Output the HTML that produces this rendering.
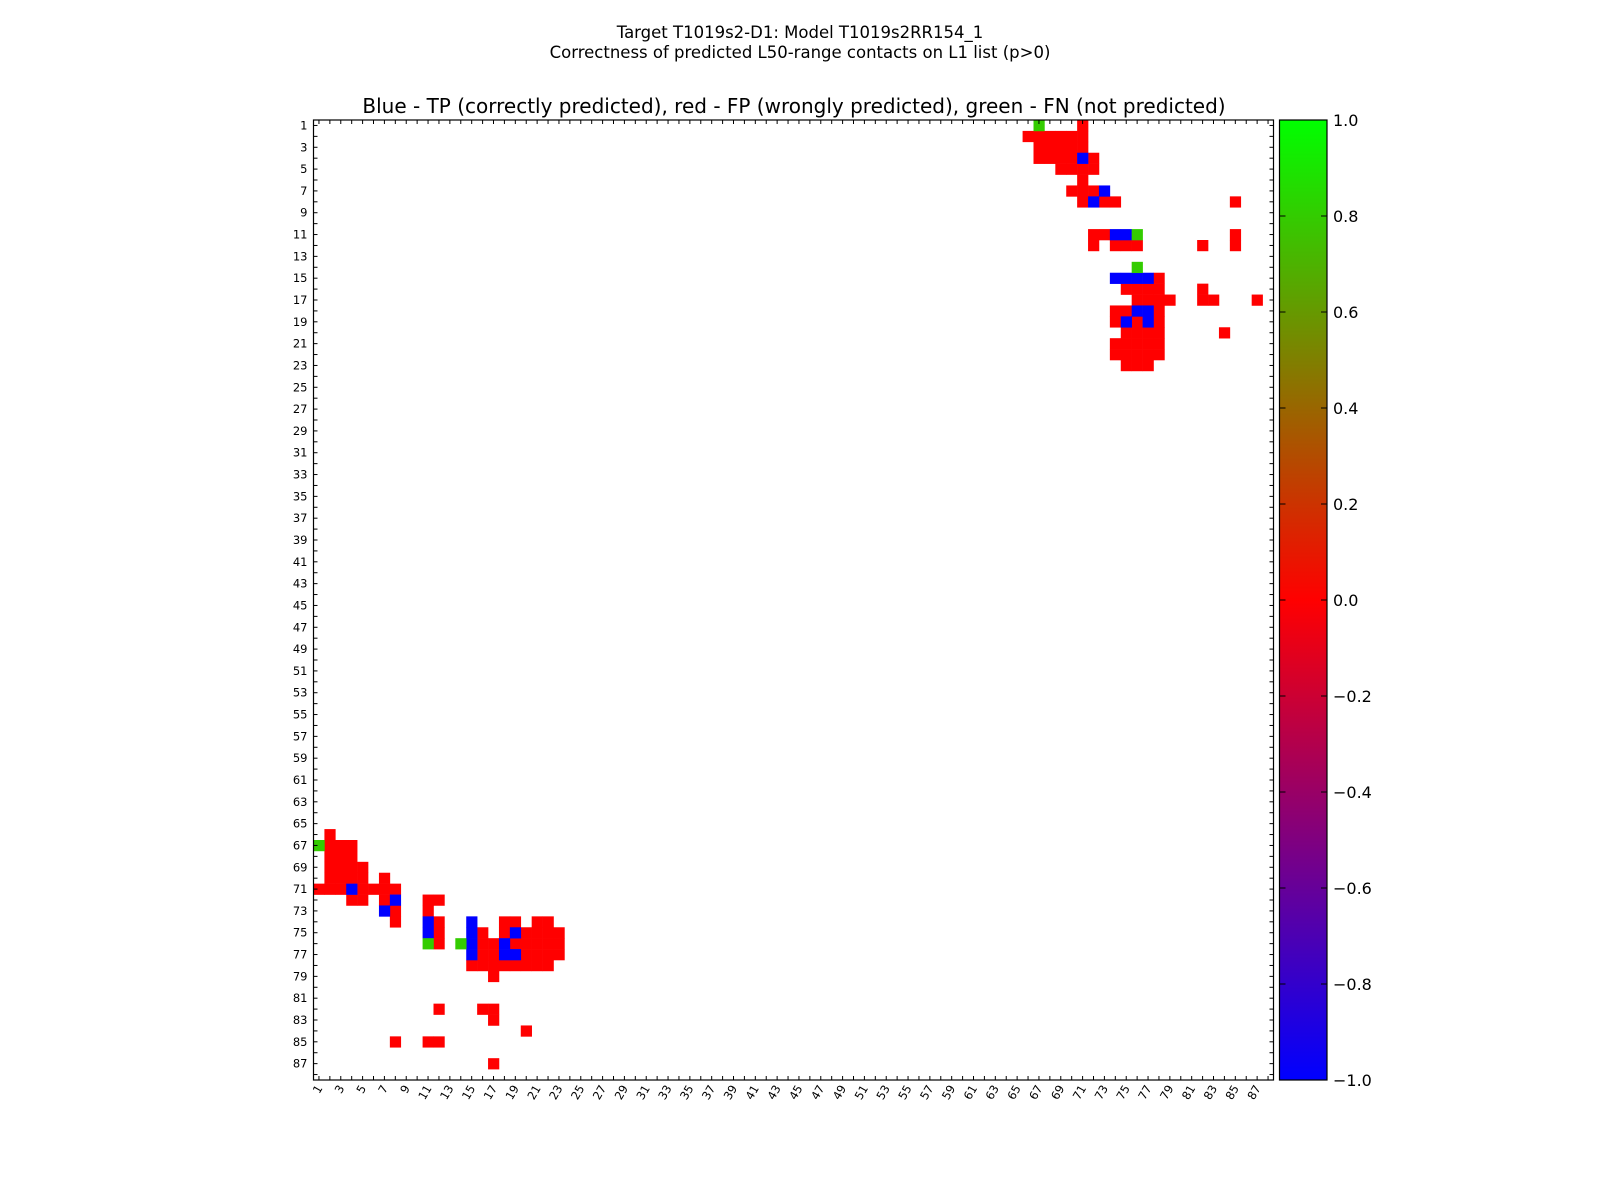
<!DOCTYPE html>
<html><head><meta charset="utf-8"><style>
html,body{margin:0;padding:0;background:#fff;}
svg{display:block;font-family:"DejaVu Sans","Liberation Sans",sans-serif;}
</style></head><body>
<svg id="chart" width="1600" height="1200" viewBox="0 0 1600 1200">
<defs>
<linearGradient id="brg" x1="0" y1="1" x2="0" y2="0">
<stop offset="0" stop-color="#0000ff"/><stop offset="0.5" stop-color="#ff0000"/><stop offset="1" stop-color="#00ff00"/>
</linearGradient>
</defs>
<text x="800" y="38" text-anchor="middle" font-size="16.5">Target T1019s2-D1: Model T1019s2RR154_1</text>
<text x="800" y="58" text-anchor="middle" font-size="16.5">Correctness of predicted L50-range contacts on L1 list (p&gt;0)</text>
<text x="794" y="113" text-anchor="middle" font-size="20">Blue - TP (correctly predicted), red - FP (wrongly predicted), green - FN (not predicted)</text>
<g id="cells"></g>
<g id="ticks"></g>
<rect x="313.5" y="120" width="960" height="960" fill="none" stroke="#000" stroke-width="1.2"/>
<rect x="1279.5" y="120" width="47.5" height="960" fill="url(#brg)" stroke="#000" stroke-width="1.2"/>
<g id="cbticks"></g>
</svg>
<script>
const N = 88;
const fpRuns = [
 [1,71,71],[2,66,71],[3,67,71],[4,67,70],[4,72,72],[5,69,72],[6,71,71],[7,70,72],
 [8,71,71],[8,73,74],[8,85,85],[11,72,73],[11,85,85],[12,72,72],[12,74,76],[12,82,82],[12,85,85],
 [15,78,78],[16,75,78],[16,82,82],[17,76,79],[17,82,83],[17,87,87],[18,74,75],[18,78,78],
 [19,74,74],[19,76,76],[19,78,78],[20,75,78],[20,84,84],[21,74,78],[22,74,78],[23,75,77],
 [66,2,2],[67,2,4],[68,2,4],[69,2,5],[70,2,5],[70,7,7],[71,1,3],[71,5,8],
 [72,4,5],[72,7,7],[72,11,12],[73,8,8],[73,11,11],[74,8,8],[74,12,12],[74,18,19],[74,21,22],
 [75,12,12],[75,16,16],[75,18,18],[75,20,23],[76,12,12],[76,16,17],[76,19,23],
 [77,16,17],[77,20,23],[78,15,22],[79,17,17],[82,12,12],[82,16,17],[83,17,17],[84,20,20],
 [85,8,8],[85,11,12],[87,17,17]
];
const tpRuns = [
 [4,71,71],[7,73,73],[8,72,72],[11,74,75],[15,74,77],[18,76,77],[19,75,75],[19,77,77],
 [71,4,4],[72,8,8],[73,7,7],[74,11,11],[75,11,11],[74,15,15],[75,15,15],[76,15,15],[77,15,15],
 [75,19,19],[76,18,18],[77,18,19]
];
const fnRuns = [[1,67,67],[11,76,76],[14,76,76],[67,1,1],[76,11,11],[76,14,14]];
const cbTicks = [1.0,0.8,0.6,0.4,0.2,0.0,-0.2,-0.4,-0.6,-0.8,-1.0];

const NS = "http://www.w3.org/2000/svg";
const X0 = 313.5, Y0 = 120, SIZE = 960, CELL = SIZE / N;
function xPos(c){ return X0 + (c - 1) * CELL; }
function yPos(r){ return Y0 + (r - 1) * CELL; }
function cbY(v){ return Y0 + (1 - (v + 1) / 2) * SIZE; }
function mk(tag, attrs){ const e = document.createElementNS(NS, tag); for (const k in attrs) e.setAttribute(k, attrs[k]); return e; }

const cells = document.getElementById('cells');
function drawRuns(runs, color, name){
  runs.forEach(([r, c1, c2]) => {
    for (let c = c1; c <= c2; c++) {
      const rc = mk('rect', {x: xPos(c).toFixed(2), y: yPos(r).toFixed(2), width: (CELL + 0.3).toFixed(2), height: (CELL + 0.3).toFixed(2), fill: color});
      
      
      cells.appendChild(rc);
    }
  });
}
drawRuns(fpRuns, '#ff0000', 'fp-cell');
drawRuns(tpRuns, '#0000ff', 'tp-cell');
drawRuns(fnRuns, '#33cc00', 'fn-cell');

const ticks = document.getElementById('ticks');
for (let i = 1; i <= N; i++) {
  const cx = xPos(i) + CELL / 2, cy = yPos(i) + CELL / 2;
  ticks.appendChild(mk('line', {x1: cx, y1: Y0, x2: cx, y2: Y0 + 4, stroke: '#000', 'stroke-width': 1}));
  ticks.appendChild(mk('line', {x1: cx, y1: Y0 + SIZE, x2: cx, y2: Y0 + SIZE - 4, stroke: '#000', 'stroke-width': 1}));
  ticks.appendChild(mk('line', {x1: X0, y1: cy, x2: X0 + 4, y2: cy, stroke: '#000', 'stroke-width': 1}));
  ticks.appendChild(mk('line', {x1: X0 + SIZE, y1: cy, x2: X0 + SIZE - 4, y2: cy, stroke: '#000', 'stroke-width': 1}));
  if (i % 2 === 1) {
    const yl = mk('text', {x: X0 - 6, y: cy + 4, 'text-anchor': 'end', 'font-size': 11.5});
    yl.textContent = i;
    
    
    ticks.appendChild(yl);
    const xl = mk('text', {x: 0, y: 0, 'text-anchor': 'end', 'font-size': 11.5, transform: `translate(${cx + 4},${Y0 + SIZE + 8}) rotate(-60)`});
    xl.textContent = i;
    
    
    ticks.appendChild(xl);
  }
}

const cbg = document.getElementById('cbticks');
cbTicks.forEach(v => {
  const y = cbY(v);
  cbg.appendChild(mk('line', {x1: 1327, y1: y, x2: 1321, y2: y, stroke: '#000', 'stroke-width': 1}));
  cbg.appendChild(mk('line', {x1: 1279.5, y1: y, x2: 1285.5, y2: y, stroke: '#000', 'stroke-width': 1}));
  const t = mk('text', {x: 1333, y: y + 6, 'font-size': 16});
  t.textContent = (v < 0 ? '\u2212' : '') + Math.abs(v).toFixed(1);
  
  
  cbg.appendChild(t);
});
</script>
</body></html>
